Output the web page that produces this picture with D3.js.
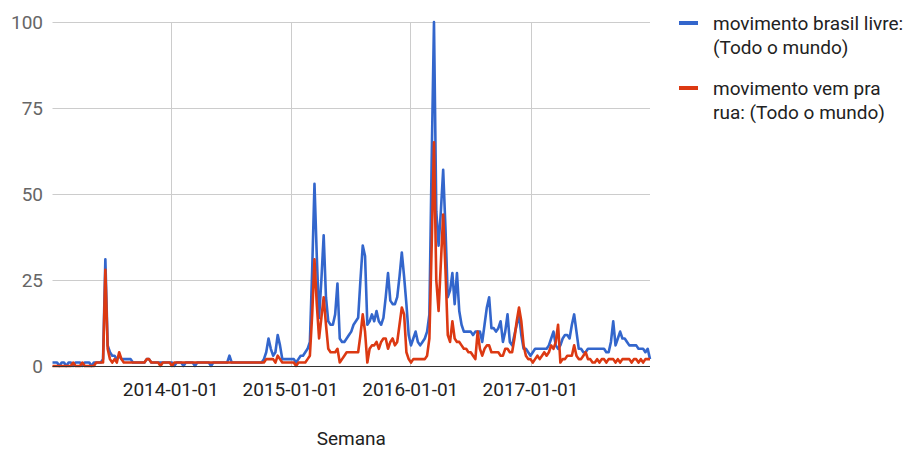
<!DOCTYPE html>
<html>
<head>
<meta charset="utf-8">
<script src="https://cdn.jsdelivr.net/npm/d3@7"></script>
<style>
    body { margin: 0; background: #fff; }
    svg { font-family: Roboto, Arial, sans-serif; }
</style>
</head>
<body>
<svg id="chart"></svg>
<script>
// weekly search interest, first week starts 2013-01-06
const firstWeek = '2013-01-06';

// movimento brasil livre
const mbl = [
    1,1,1,0,1,1,0,1,1,0,1,1,1,0,1,1,1,0,1,1,1,1,
    2,31,6,4,3,3,2,3,2,2,2,2,2,1,1,1,1,1,1,2,2,1,1,1,1,1,1,1,1,1,
    1,0,1,1,1,0,1,1,1,1,0,1,1,1,1,1,1,0,1,1,1,1,1,1,1,3,
    1,1,1,1,1,1,1,1,1,1,1,1,1,
    1,2,4,8,5,3,4,9,6,2,2,2,2,
    2,2,1,2,3,3,4,5,7,
    28,53,32,14,25,38,20,13,12,12,15,24,8,7,7,8,9,10,12,13,14,25,35,32,12,13,
    15,13,16,13,12,14,20,27,19,18,18,20,26,33,26,18,9,6,8,10,7,6,7,8,10,15,
    60,100,45,35,45,57,40,20,22,27,18,27,16,12,10,10,10,10,9,10,10,10,
    7,12,17,20,11,11,10,11,13,7,10,15,7,6,9,12,15,9,5,5,4,
    3,4,5,5,5,5,5,5,6,8,10,6,5,6,8,9,9,8,12,15,10,5,5,4,4,5,5,
    5,5,5,5,5,5,4,4,7,13,6,8,10,8,8,7,6,6,6,6,5,5,5,4,5,2
];

// movimento vem pra rua
const vpr = [
    0,0,0,0,0,0,0,0,0,1,0,0,0,1,0,0,0,0,0,1,1,1,
    1,28,5,2,1,2,1,4,2,1,1,1,1,1,1,1,1,1,1,2,2,1,1,1,1,0,1,1,1,1,
    0,1,1,1,1,1,1,1,1,1,1,1,1,1,1,1,1,1,1,1,1,1,1,1,1,1,
    1,1,1,1,1,1,1,1,1,1,1,1,1,
    1,1,2,2,2,2,1,3,2,1,1,1,1,
    1,1,0,1,1,1,1,2,3,
    15,31,18,8,14,20,12,5,4,4,4,5,1,2,3,4,4,4,4,4,4,9,15,10,1,5,
    6,6,7,5,7,8,8,5,7,8,6,7,12,17,15,4,2,1,2,2,2,2,2,2,3,8,
    35,65,25,16,30,44,28,9,7,13,8,7,7,6,5,5,4,4,3,2,10,5,
    3,5,6,6,4,4,4,4,3,3,5,5,4,4,8,13,17,13,6,3,2,
    2,1,2,3,2,3,4,3,4,6,5,7,12,1,2,2,3,3,3,6,3,2,2,3,4,2,2,
    1,1,2,1,2,2,1,2,2,2,1,2,1,2,2,2,2,1,2,2,1,2,1,2,2,2
];

const yTicks = [0, 25, 50, 75, 100];
const xTicks = ['2014-01-01', '2015-01-01', '2016-01-01', '2017-01-01'];
const seriesNames = [
    ['movimento brasil livre:', '(Todo o mundo)'],
    ['movimento vem pra', 'rua: (Todo o mundo)']
];
const seriesColors = ['#3366cc', '#dc3912'];
const axisTitle = 'Semana';

const width = 912;
const height = 450;
const margin = { top: 22, right: 262, bottom: 84, left: 52.5 };

const parse = d3.utcParse('%Y-%m-%d');
const weeks = d3.utcWeek.range(parse(firstWeek), d3.utcDay.offset(parse(firstWeek), 7 * mbl.length));

const svg = d3.select('#chart')
    .attr('width', width)
    .attr('height', height);

const x = d3.scaleUtc()
    .domain([weeks[0], weeks[weeks.length - 1]])
    .range([margin.left, width - margin.right]);

const y = d3.scaleLinear()
    .domain([0, 100])
    .range([height - margin.bottom, margin.top]);

// horizontal grid
svg.append('g')
    .selectAll('line')
    .data(yTicks.filter(d => d > 0))
    .join('line')
    .attr('x1', x.range()[0])
    .attr('x2', x.range()[1])
    .attr('y1', d => Math.round(y(d)) + 0.5)
    .attr('y2', d => Math.round(y(d)) + 0.5)
    .attr('stroke', '#cccccc');

// vertical grid at each year
svg.append('g')
    .selectAll('line')
    .data(xTicks.map(parse))
    .join('line')
    .attr('x1', d => Math.round(x(d)) + 0.5)
    .attr('x2', d => Math.round(x(d)) + 0.5)
    .attr('y1', y(100))
    .attr('y2', y(0))
    .attr('stroke', '#cccccc');

// y labels
svg.append('g')
    .selectAll('text')
    .data(yTicks)
    .join('text')
    .attr('x', 43)
    .attr('y', d => y(d))
    .attr('dy', '0.35em')
    .attr('text-anchor', 'end')
    .attr('font-size', 19)
    .attr('fill', '#666')
    .text(d => d);

// x labels
svg.append('g')
    .selectAll('text')
    .data(xTicks)
    .join('text')
    .attr('x', d => x(parse(d)))
    .attr('y', 396)
    .attr('text-anchor', 'middle')
    .attr('font-size', 19)
    .attr('fill', '#222')
    .text(d => d);

svg.append('text')
    .attr('x', (x.range()[0] + x.range()[1]) / 2)
    .attr('y', 445)
    .attr('text-anchor', 'middle')
    .attr('font-size', 19)
    .attr('fill', '#222')
    .text(axisTitle);

const line = d3.line()
    .x((d, i) => x(weeks[i]))
    .y(d => y(d));

svg.append('g')
    .selectAll('path')
    .data([mbl, vpr])
    .join('path')
    .attr('d', line)
    .attr('fill', 'none')
    .attr('stroke', (d, i) => seriesColors[i])
    .attr('stroke-width', 2.6)
    .attr('stroke-linejoin', 'round');

// baseline
svg.append('line')
    .attr('x1', x.range()[0])
    .attr('x2', x.range()[1])
    .attr('y1', y(0) + 0.5)
    .attr('y2', y(0) + 0.5)
    .attr('stroke', '#333');

// legend
const legend = svg.append('g')
    .selectAll('g')
    .data(seriesNames)
    .join('g')
    .attr('transform', (d, i) => `translate(679, ${23 + i * 65})`);

legend.append('rect')
    .attr('x', 0)
    .attr('y', -2)
    .attr('width', 19)
    .attr('height', 4)
    .attr('fill', (d, i) => seriesColors[i]);

legend.append('text')
    .attr('x', 34)
    .attr('font-size', 19)
    .attr('fill', '#222')
    .selectAll('tspan')
    .data(d => d)
    .join('tspan')
    .attr('x', 34)
    .attr('y', (d, i) => i * 24)
    .attr('dy', '0.35em')
    .text(d => d);
</script>
</body>
</html>
